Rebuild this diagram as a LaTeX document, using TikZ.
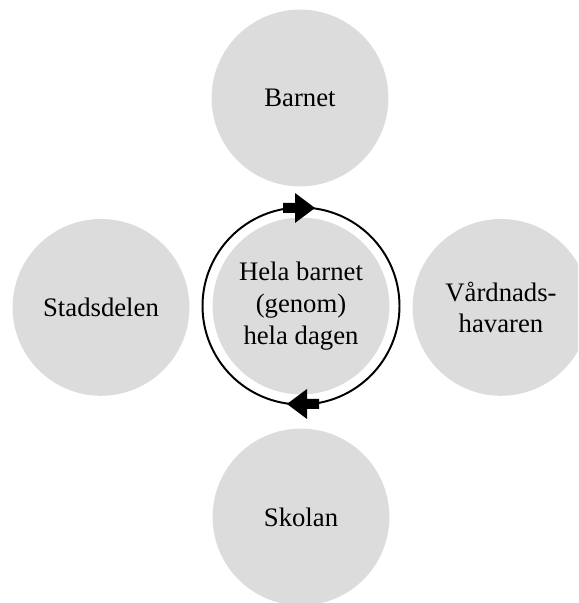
\documentclass[tikz,border=0pt]{standalone}
\usepackage{fontspec}
\setmainfont{Liberation Serif}
\definecolor{circlegray}{RGB}{220,220,220}

\def\partsize{4.42cm}
\def\ringradius{2.4625}

\tikzset{
    part/.style={circle, fill=circlegray, minimum size=\partsize, inner sep=0pt,
        align=center, font=\fontsize{19}{22.5}\selectfont},
}

\begin{document}
\begin{tikzpicture}
        \clip (0,0) rectangle (14.45,15.075);
        \useasboundingbox (0,0) rectangle (14.45,15.075);
        % the four parts round the child
        \node[part] (barnet) at (7.5,12.625) {Barnet};
        \node[part] (stadsdelen) at (2.525,7.39) {Stadsdelen};
        \node[part] (vardnad) at (12.525,7.39) {V\aa rdnads-\\havaren};
        \node[part] (skolan) at (7.525,2.15) {Skolan};
        \node[part] (hela) at (7.525,7.425) {Hela barnet\\(genom)\\hela dagen};
        % the circle with the two block arrows
        \draw[line width=1.4pt] (hela.center) circle (\ringradius);
        \foreach \r in {0,180}
            \fill[rotate around={\r:(hela.center)}]
                ([shift={(-0.45,2.325)}]hela.center) rectangle ([shift={(-0.14,2.575)}]hela.center)
                ([shift={(-0.15,2.825)}]hela.center) -- ([shift={(0.35,2.45)}]hela.center)
                -- ([shift={(-0.15,2.075)}]hela.center) -- cycle;
    \end{tikzpicture}
\end{document}
